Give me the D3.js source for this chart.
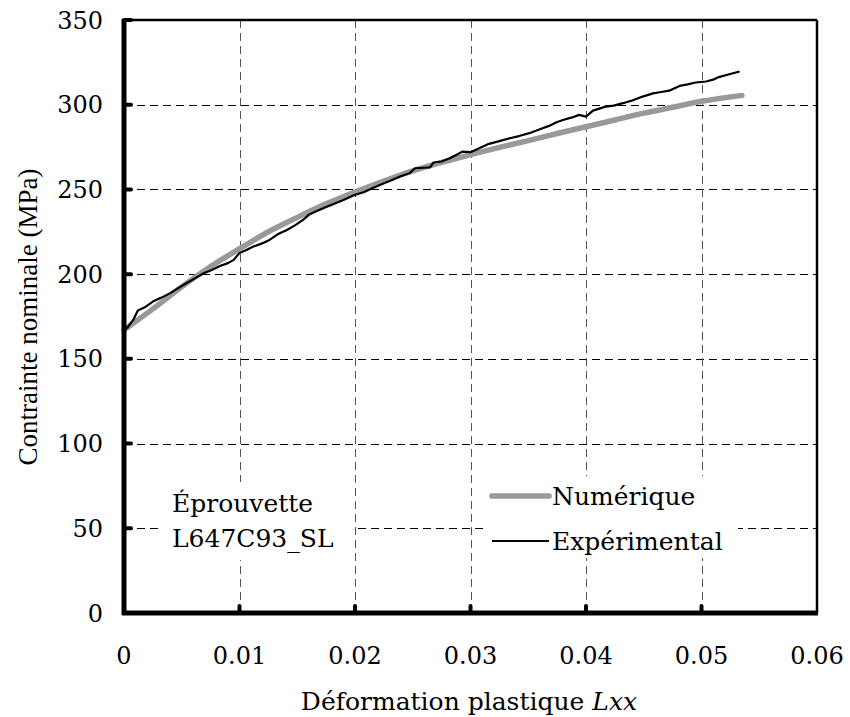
<!DOCTYPE html>
<html lang="fr">
<head>
<meta charset="UTF-8">
<title></title>
<script src="https://d3js.org/d3.v7.min.js"></script>
<style>
  body { margin: 0; background: #fff; }
</style>
</head>
<body>
<svg id="drawing_pad" width="850" height="717"></svg>
<script>
// numerical curve (strain, stress MPa)
let numX = [0, 0.0025, 0.005, 0.0075, 0.01, 0.0125, 0.015, 0.0175, 0.02, 0.0225, 0.025, 0.0275,
            0.03, 0.0325, 0.035, 0.0375, 0.04, 0.0425, 0.045, 0.0475, 0.05, 0.0535];
let numY = [167, 179.5, 192.5, 204.5, 215, 225, 233.5, 241.5, 248.5, 255, 261, 266,
            270.5, 274.8, 278.8, 283, 287, 291, 295, 298.5, 302, 305.5];

// experimental curve
let expX = [0, 0.0003, 0.0008, 0.0012, 0.0018, 0.0025, 0.0032, 0.0040, 0.0047, 0.0054, 0.0062, 0.0069,
            0.0076, 0.0083, 0.0090, 0.0095, 0.0100, 0.0106, 0.0112, 0.0119, 0.0126, 0.0133, 0.0141, 0.0148,
            0.0155, 0.0160, 0.0167, 0.0174, 0.0181, 0.0190, 0.0200, 0.0208, 0.0215, 0.0222, 0.0230, 0.0239,
            0.0247, 0.0252, 0.0260, 0.0265, 0.0268, 0.0275, 0.0282, 0.0288, 0.0293, 0.0300, 0.0308, 0.0316,
            0.0325, 0.0334, 0.0342, 0.0351, 0.0360, 0.0368, 0.0374, 0.0380, 0.0388, 0.0394, 0.0400, 0.0406,
            0.0417, 0.0424, 0.0432, 0.0440, 0.0449, 0.0458, 0.0465, 0.0472, 0.0481, 0.0488, 0.0495, 0.0504,
            0.0510, 0.0515, 0.0524, 0.0533];
let expY = [167, 168.5, 173, 178.5, 180.4, 183.8, 186, 188.8, 191.8, 194.6, 197.8, 200.5,
            202.5, 204.8, 206.5, 208.4, 212.5, 214.2, 216.3, 218, 220.2, 223.5, 226.1, 228.8,
            232, 235, 237.2, 239.3, 241.3, 243.8, 246.8, 248.5, 250.7, 252.8, 255, 257.6,
            259.5, 262.5, 262.8, 263, 265.9, 266.5, 268.4, 270.5, 272.3, 272, 274.5, 276.9,
            278.5, 280.2, 281.5, 283.2, 285.5, 287.5, 289.5, 291, 292.5, 294, 293, 296.5,
            298.9, 299.5, 300.9, 302.5, 304.8, 306.7, 307.5, 308.3, 311.1, 312, 313.1, 313.7,
            314.8, 316.3, 318, 319.6];

let xTicks = [0, 0.01, 0.02, 0.03, 0.04, 0.05, 0.06];
let yTicks = [0, 50, 100, 150, 200, 250, 300, 350];
let seriesNames = ["Numérique", "Expérimental"];
let specimen = ["Éprouvette", "L647C93_SL"];

let svg = d3.select("#drawing_pad");
let pLeft = 124, pRight = 817, pTop = 20, pBottom = 613;
let serif = "'DejaVu Serif', serif";

let x = d3.scaleLinear().domain([0, 0.06]).range([pLeft, pRight]);
let y = d3.scaleLinear().domain([0, 350]).range([pBottom, pTop]);

// grid
svg.append("g").selectAll("line").data(yTicks.slice(1, -1)).enter().append("line")
  .attr("x1", pLeft).attr("x2", pRight)
  .attr("y1", d => Math.round(y(d)) + 0.5).attr("y2", d => Math.round(y(d)) + 0.5)
  .attr("stroke", "#000").attr("stroke-width", 1).attr("stroke-dasharray", "8,5");
svg.append("g").selectAll("line").data(xTicks.slice(1, -1)).enter().append("line")
  .attr("y1", pTop).attr("y2", pBottom)
  .attr("x1", d => Math.round(x(d)) + 0.5).attr("x2", d => Math.round(x(d)) + 0.5)
  .attr("stroke", "#555").attr("stroke-width", 1).attr("stroke-dasharray", "8,5");

// white boxes behind labels
svg.append("rect").attr("x", 163).attr("y", 482).attr("width", 190).attr("height", 78).attr("fill", "#fff");
svg.append("rect").attr("x", 484).attr("y", 476).attr("width", 254).attr("height", 82).attr("fill", "#fff");

// curves
let lineNum = d3.line().x((d, i) => x(numX[i])).y(d => y(d)).curve(d3.curveMonotoneX);
let lineExp = d3.line().x((d, i) => x(expX[i])).y(d => y(d));

svg.append("path").attr("d", lineNum(numY)).attr("fill", "none")
  .attr("stroke", "#999").attr("stroke-width", 5.5).attr("stroke-linecap", "round");
svg.append("path").attr("d", lineExp(expY)).attr("fill", "none")
  .attr("stroke", "#000").attr("stroke-width", 2.2).attr("stroke-linejoin", "round");

// frame
svg.append("line").attr("x1", pLeft).attr("x2", pRight).attr("y1", pTop).attr("y2", pTop)
  .attr("stroke", "#000").attr("stroke-width", 2.5);
svg.append("line").attr("x1", pRight).attr("x2", pRight).attr("y1", pTop).attr("y2", pBottom)
  .attr("stroke", "#000").attr("stroke-width", 2.5);
svg.append("line").attr("x1", pLeft).attr("x2", pLeft).attr("y1", pTop - 1).attr("y2", pBottom + 2)
  .attr("stroke", "#000").attr("stroke-width", 5);
svg.append("line").attr("x1", pLeft - 2).attr("x2", pRight + 1).attr("y1", pBottom).attr("y2", pBottom)
  .attr("stroke", "#000").attr("stroke-width", 5);

// ticks
svg.append("g").selectAll("line").data(yTicks).enter().append("line")
  .attr("x1", pLeft).attr("x2", pLeft + 7).attr("y1", d => y(d)).attr("y2", d => y(d))
  .attr("stroke", "#000").attr("stroke-width", 4).attr("stroke-linecap", "round");
svg.append("g").selectAll("line").data(xTicks.slice(0, -1)).enter().append("line")
  .attr("y1", pBottom).attr("y2", pBottom - 7).attr("x1", d => x(d)).attr("x2", d => x(d))
  .attr("stroke", "#000").attr("stroke-width", 4).attr("stroke-linecap", "round");

// tick labels
svg.append("g").selectAll("text").data(yTicks).enter().append("text")
  .attr("x", pLeft - 21).attr("y", d => y(d)).attr("dy", "0.36em")
  .attr("text-anchor", "end").style("font-family", serif).style("font-size", "24px").text(d => d);
svg.append("g").selectAll("text").data(xTicks).enter().append("text")
  .attr("x", d => x(d)).attr("y", 664)
  .attr("text-anchor", "middle").style("font-family", serif).style("font-size", "24px").text(d => d);

// axis titles
let xt = svg.append("text").attr("x", 469).attr("y", 710).attr("text-anchor", "middle")
  .style("font-family", serif).style("font-size", "25px");
xt.append("tspan").text("Déformation plastique ");
xt.append("tspan").style("font-style", "italic").text("Lxx");

svg.append("text").attr("transform", "translate(37,317) rotate(-90)")
  .attr("text-anchor", "middle").style("font-family", "'Liberation Serif', serif").style("font-size", "27px")
  .text("Contrainte nominale (MPa)");

// specimen label
svg.append("g").selectAll("text").data(specimen).enter().append("text")
  .attr("x", 172).attr("y", (d, i) => 512 + i * 35)
  .style("font-family", serif).style("font-size", "25px").text(d => d);

// legend
let legY = [496, 541];
let legStyle = [{c: "#999", w: 5.5}, {c: "#000", w: 2.2}];
let leg = svg.append("g").selectAll("g").data(seriesNames).enter().append("g");
leg.append("line").attr("x1", 492).attr("x2", 549)
  .attr("y1", (d, i) => legY[i]).attr("y2", (d, i) => legY[i])
  .attr("stroke", (d, i) => legStyle[i].c).attr("stroke-width", (d, i) => legStyle[i].w)
  .attr("stroke-linecap", (d, i) => i == 0 ? "round" : "butt");
leg.append("text").attr("x", 552).attr("y", (d, i) => legY[i]).attr("dy", "0.36em")
  .style("font-family", serif).style("font-size", "25px").text(d => d);
</script>
</body>
</html>
